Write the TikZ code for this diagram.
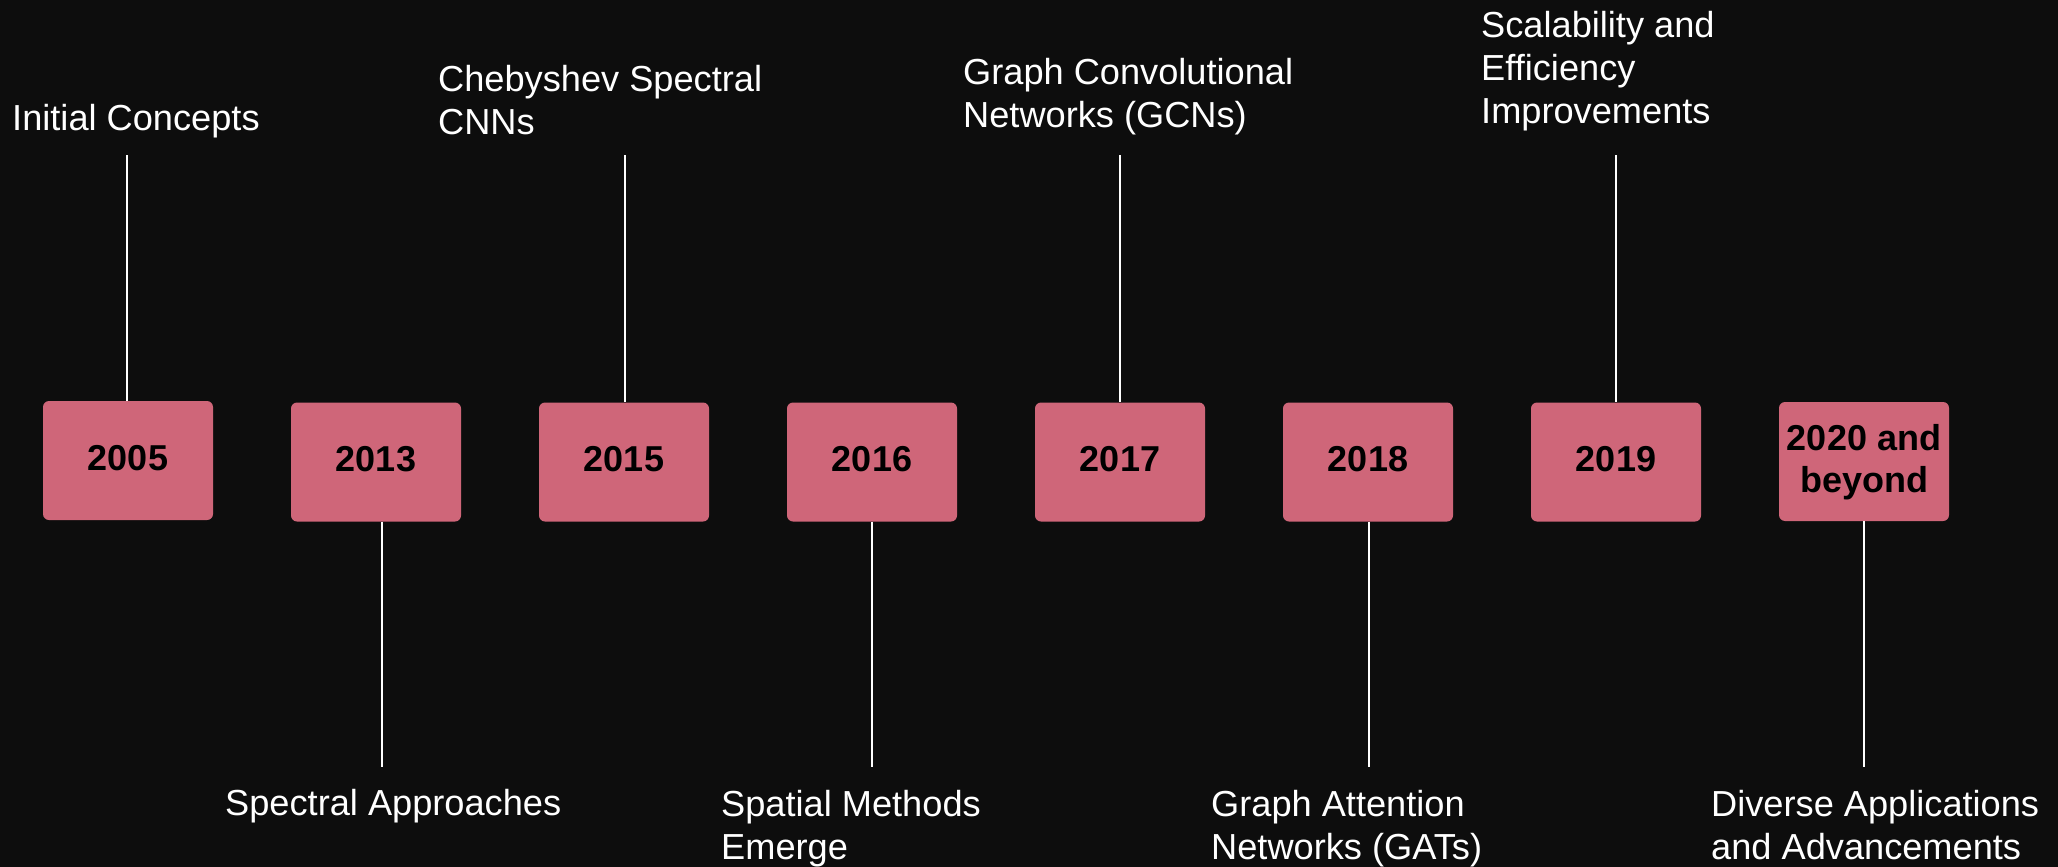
\documentclass[tikz,border=0pt]{standalone}
\usepackage{fontspec}
\setmainfont{Liberation Sans}
\definecolor{bg}{HTML}{0D0D0D}
\definecolor{boxc}{HTML}{CF6679}
\begin{document}
\begin{tikzpicture}[x=1pt,y=-1pt,
  yearbox/.style={fill=boxc, rounded corners=6pt, minimum width=170pt, minimum height=119pt,
    inner sep=0pt, text=black, align=center, text depth=6pt,
    font=\bfseries\fontsize{36}{42.7}\selectfont},
  lbl/.style={text=white, inner sep=0pt, align=left, anchor=base west,
    font=\fontsize{36.2}{43}\selectfont},
  conn/.style={draw=white, line width=1.6pt}]
\useasboundingbox[fill=bg] (0,0) rectangle (2058,867);

% year boxes
\node[yearbox] (b2005) at (128,460.5) {2005};
\node[yearbox] (b2013) at (376,462) {2013};
\node[yearbox] (b2015) at (624,462) {2015};
\node[yearbox] (b2016) at (872,462) {2016};
\node[yearbox] (b2017) at (1120,462) {2017};
\node[yearbox] (b2018) at (1368,462) {2018};
\node[yearbox] (b2019) at (1616,462) {2019};
\node[yearbox] (b2020) at (1864,461.5) {2020 and\\beyond};

% labels above (anchor = baseline of last line)
\node[lbl] (l2005) at (12,130) {Initial Concepts};
\node[lbl] (l2015) at (438,134) {Chebyshev Spectral\\CNNs};
\node[lbl] (l2017) at (963,127) {Graph Convolutional\\Networks (GCNs)};
\node[lbl] (l2019) at (1481,123) {Scalability and\\Efficiency\\Improvements};

% labels below
\node[lbl] (l2013) at (225,815) {Spectral Approaches};
\node[lbl] (l2016) at (721,859) {Spatial Methods\\Emerge};
\node[lbl] (l2018) at (1211,859) {Graph Attention\\Networks (GATs)};
\node[lbl] (l2020) at (1711,859) {Diverse Applications\\and Advancements};

% connector end points
\coordinate (t2005) at (127,155);
\coordinate (t2015) at (625,155);
\coordinate (t2017) at (1120,155);
\coordinate (t2019) at (1616,155);
\coordinate (e2013) at (382,767);
\coordinate (e2016) at (872,767);
\coordinate (e2018) at (1369,767);
\coordinate (e2020) at (1864,767);

\draw[conn] (t2005) -- (t2005 |- b2005.north);
\draw[conn] (t2015) -- (t2015 |- b2015.north);
\draw[conn] (t2017) -- (t2017 |- b2017.north);
\draw[conn] (t2019) -- (t2019 |- b2019.north);
\draw[conn] (e2013 |- b2013.south) -- (e2013);
\draw[conn] (e2016 |- b2016.south) -- (e2016);
\draw[conn] (e2018 |- b2018.south) -- (e2018);
\draw[conn] (e2020 |- b2020.south) -- (e2020);
\end{tikzpicture}
\end{document}
